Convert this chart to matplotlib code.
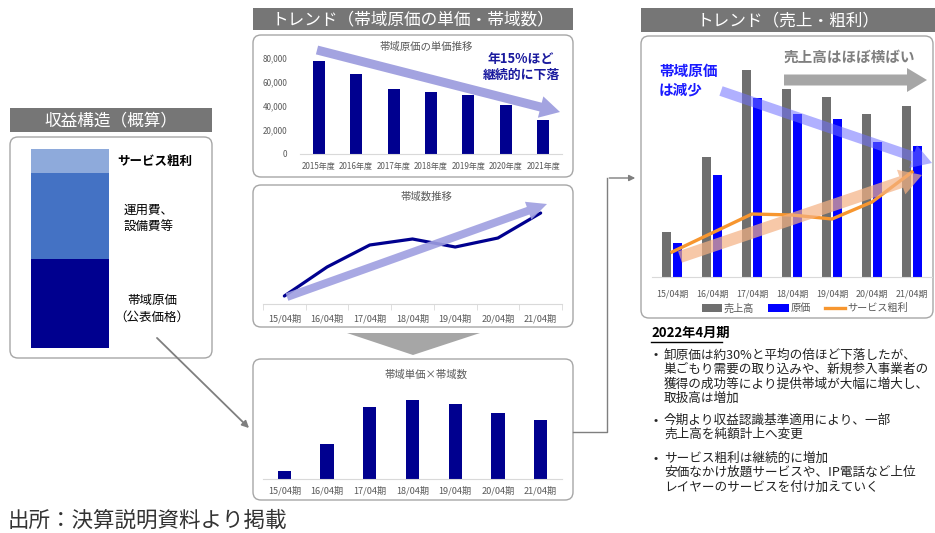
import numpy as np
import matplotlib
matplotlib.use('Agg')
import matplotlib.pyplot as plt
from matplotlib.patches import FancyBboxPatch, Rectangle, Polygon, FancyArrow
from matplotlib.ticker import FuncFormatter

plt.rcParams['font.family'] = ['Noto Sans CJK JP', 'DejaVu Sans']

W, H = 935, 533

# ---- data ----
structure_labels = ['帯域原価\n（公表価格）', '運用費、\n設備費等', 'サービス粗利']
structure_share = [89, 86, 24]  # stacked segments, bottom -> top

fiscal_years = ['2015年度', '2016年度', '2017年度', '2018年度', '2019年度', '2020年度', '2021年度']
unit_price = [77500, 66500, 54500, 52000, 49000, 40500, 28000]

periods = ['15/04期', '16/04期', '17/04期', '18/04期', '19/04期', '20/04期', '21/04期']
bandwidth = [8, 37, 59, 65, 57, 66, 91]
price_x_bandwidth = [8, 35, 72, 79, 75, 66, 59]
sales = [45, 120, 207, 188, 180, 163, 171]
cost = [34, 102, 179, 163, 158, 135, 131]
gross_profit = [25, 44, 63, 62, 58, 75, 105]

notes_title = '2022年4月期'
notes = [
    ['卸原価は約30%と平均の倍ほど下落したが、', '巣ごもり需要の取り込みや、新規参入事業者の',
     '獲得の成功等により提供帯域が大幅に増大し、', '取扱高は増加'],
    ['今期より収益認識基準適用により、一部', '売上高を純額計上へ変更'],
    ['サービス粗利は継続的に増加', '安価なかけ放題サービスや、IP電話など上位',
     'レイヤーのサービスを付け加えていく'],
]

NAVY = '#00008f'
GREY_TXT = '#595959'
AXIS_GREY = '#d9d9d9'

fig = plt.figure(figsize=(W / 100, H / 100), dpi=100)


def px_axes(x0, y0, x1, y1, z=5):
    a = fig.add_axes([x0 / W, 1 - y1 / H, (x1 - x0) / W, (y1 - y0) / H], zorder=z)
    a.set_facecolor('none')
    return a


bg = px_axes(0, 0, W, H, z=0)
bg.set_xlim(0, W)
bg.set_ylim(H, 0)
bg.axis('off')

ov = px_axes(0, 0, W, H, z=10)
ov.set_xlim(0, W)
ov.set_ylim(H, 0)
ov.axis('off')


def header(x0, y0, x1, y1, text):
    bg.add_patch(Rectangle((x0, y0), x1 - x0, y1 - y0, color='#767676', lw=0))
    bg.text((x0 + x1) / 2, (y0 + y1) / 2 + 0.5, text, color='white', fontsize=12,
            ha='center', va='center')


def rbox(x0, y0, x1, y1):
    bg.add_patch(FancyBboxPatch((x0, y0), x1 - x0, y1 - y0,
                                boxstyle='round,pad=0,rounding_size=8',
                                fc='white', ec='#a6a6a6', lw=1))


header(10, 108, 212, 132, '収益構造（概算）')
header(253, 8, 573, 30, 'トレンド（帯域原価の単価・帯域数）')
header(641, 8, 935, 32, 'トレンド（売上・粗利）')

rbox(10, 137, 212, 358)
rbox(253, 35, 573, 177)
rbox(253, 185, 573, 327)
rbox(253, 359, 573, 500)
rbox(641, 36, 933, 318)

# ---- left: stacked structure bar ----
axs = px_axes(31, 149, 109, 348)
seg_colors = ['#00008f', '#4472c4', '#8eaadb']
bottom = 0
for h, c in zip(structure_share, seg_colors):
    axs.bar(0, h, bottom=bottom, width=1, color=c, lw=0)
    bottom += h
axs.set_xlim(-0.5, 0.5)
axs.set_ylim(0, sum(structure_share))
axs.axis('off')

bg.text(117, 161, structure_labels[2], fontsize=9, fontweight='bold', ha='left', va='center')
bg.text(124, 219, structure_labels[1], fontsize=9, ha='left', va='center', linespacing=1.35)
bg.text(152, 309, structure_labels[0], fontsize=9, ha='center', va='center', linespacing=1.35)

# ---- middle top: unit price bars ----
ax1 = px_axes(300, 58, 562, 154)
x = np.arange(len(fiscal_years))
ax1.bar(x, unit_price, width=0.32, color=NAVY)
ax1.set_xlim(-0.5, 6.5)
ax1.set_ylim(0, 80000)
ax1.set_yticks([0, 20000, 40000, 60000, 80000])
ax1.yaxis.set_major_formatter(FuncFormatter(lambda v, p: f'{int(v):,}'))
ax1.set_xticks(x)
ax1.set_xticklabels(fiscal_years)
ax1.tick_params(axis='both', length=0, labelsize=5.8, colors=GREY_TXT)
ax1.tick_params(axis='y', pad=9)
ax1.tick_params(axis='x', pad=6)
for s in ['top', 'right', 'left']:
    ax1.spines[s].set_visible(False)
ax1.spines['bottom'].set_color(AXIS_GREY)
bg.text(426, 47, '帯域原価の単価推移', fontsize=7.5, color=GREY_TXT, ha='center', va='center')

# ---- middle: bandwidth line ----
ax2 = px_axes(263, 200, 562, 304)
ax2.plot(np.arange(len(periods)), bandwidth, color=NAVY, lw=2.3, solid_capstyle='round')
ax2.set_xlim(-0.5, 6.5)
ax2.set_ylim(0, 104)
ax2.set_xticks(np.arange(len(periods)))
ax2.set_xticklabels(periods)
ax2.set_xticks(np.arange(-0.5, 7, 1), minor=True)
ax2.set_yticks([])
ax2.tick_params(axis='x', which='major', length=0, labelsize=6.6, colors=GREY_TXT, pad=7)
ax2.tick_params(axis='x', which='minor', length=4, color=AXIS_GREY)
for s in ['top', 'right', 'left']:
    ax2.spines[s].set_visible(False)
ax2.spines['bottom'].set_color(AXIS_GREY)
bg.text(426, 197, '帯域数推移', fontsize=7.5, color=GREY_TXT, ha='center', va='center')

# ---- middle bottom: price x bandwidth ----
ax3 = px_axes(263, 395, 562, 479)
ax3.bar(np.arange(len(periods)), price_x_bandwidth, width=0.31, color=NAVY)
ax3.set_xlim(-0.5, 6.5)
ax3.set_ylim(0, 84)
ax3.set_xticks(np.arange(len(periods)))
ax3.set_xticklabels(periods)
ax3.set_yticks([])
ax3.tick_params(axis='x', length=0, labelsize=6.6, colors=GREY_TXT, pad=5)
for s in ['top', 'right', 'left']:
    ax3.spines[s].set_visible(False)
ax3.spines['bottom'].set_color(AXIS_GREY)
bg.text(426, 375, '帯域単価×帯域数', fontsize=7.5, color=GREY_TXT, ha='center', va='center')

# ---- right: sales / cost / gross profit ----
ax4 = px_axes(652, 45, 932, 277)
xp = np.arange(len(periods))
b1 = ax4.bar(xp - 0.14, sales, width=0.23, color='#6f6f6f', label='売上高')
b2 = ax4.bar(xp + 0.14, cost, width=0.23, color='#0000ff', label='原価')
l1, = ax4.plot(xp, gross_profit, color='#f7962f', lw=2.4, label='サービス粗利', zorder=4)
ax4.set_xlim(-0.5, 6.5)
ax4.set_ylim(0, 232)
ax4.set_xticks(xp)
ax4.set_xticklabels(periods)
ax4.set_yticks([])
ax4.tick_params(axis='x', length=0, labelsize=6.4, colors=GREY_TXT, pad=9)
for s in ['top', 'right', 'left']:
    ax4.spines[s].set_visible(False)
ax4.spines['bottom'].set_color(AXIS_GREY)
ax4.legend(handles=[b1, b2, l1], ncol=3, frameon=False, fontsize=7.3,
           loc='center', bbox_to_anchor=(0.546, -0.135), handlelength=2.0,
           handleheight=0.8, handletextpad=0.2, columnspacing=1.4,
           labelcolor=GREY_TXT)

# ---- arrows / annotations ----
ov.add_patch(FancyArrow(317, 50, 243, 62, width=9, head_width=22, head_length=20,
                        length_includes_head=True, color='#a3a3e0', lw=0))
ov.text(521, 67, '年15%ほど\n継続的に下落', fontsize=9.3, fontweight='bold', color='#1a1a9e',
        ha='center', va='center', linespacing=1.25)
ov.add_patch(FancyArrow(287, 297, 260, -93, width=8, head_width=19, head_length=20,
                        length_includes_head=True, color='#9f9fe0', lw=0, alpha=0.9, zorder=1))

ov.add_patch(Polygon([(347, 333), (480, 333), (413, 355)], closed=True, color='#a6a6a6', lw=0))

ov.add_patch(FancyArrow(784, 80, 143, 0, width=11, head_width=24, head_length=20,
                        length_includes_head=True, color='#a6a6a6', lw=0))
ov.text(849, 57, '売上高はほぼ横ばい', fontsize=10.5, fontweight='bold', color='#7f7f7f',
        ha='center', va='center')
ov.add_patch(FancyArrow(721, 91, 211, 72, width=10, head_width=24, head_length=20,
                        length_includes_head=True, color='#6f6fff', lw=0, alpha=0.55))
ov.text(659, 80, '帯域原価\nは減少', fontsize=10.5, fontweight='bold', color='#1a1aff',
        ha='left', va='center', linespacing=1.2)
ov.add_patch(FancyArrow(680, 257, 242, -82, width=12, head_width=26, head_length=22,
                        length_includes_head=True, color='#f4b183', lw=0, alpha=0.7))

# connectors
ov.annotate('', xy=(251, 430), xytext=(155, 336),
            arrowprops=dict(arrowstyle='-|>', color='#7f7f7f', lw=1.3, mutation_scale=10))
ov.plot([573, 607, 607], [432, 432, 178], color='#7f7f7f', lw=1)
ov.annotate('', xy=(638, 178), xytext=(606.5, 178),
            arrowprops=dict(arrowstyle='-|>', color='#7f7f7f', lw=1, mutation_scale=9))

# ---- notes ----
bg.text(651, 333, notes_title, fontsize=9.5, fontweight='bold', ha='left', va='center')
bg.plot([651, 722], [341.5, 341.5], color='black', lw=1)
starts = [355, 420, 458]
for y0, lines in zip(starts, notes):
    bg.text(654, y0, '•', fontsize=9, ha='left', va='center', color='#222222')
    for i, ln in enumerate(lines):
        bg.text(664, y0 + i * 14.6, ln, fontsize=9.1, ha='left', va='center', color='#222222')

bg.text(8, 521, '出所：決算説明資料より掲載', fontsize=15.5, ha='left', va='center', color='#333333')

fig.savefig('out.png', dpi=100)
